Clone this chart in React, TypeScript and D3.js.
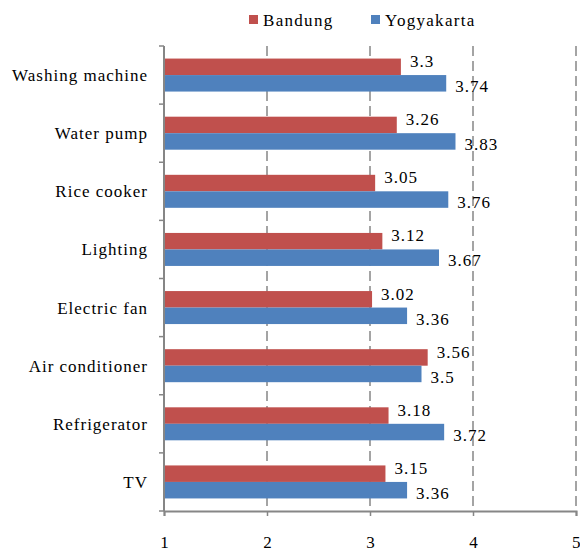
import React, { useEffect, useRef } from 'react';
import * as d3 from 'd3';

const categories = ['Washing machine', 'Water pump', 'Rice cooker', 'Lighting', 'Electric fan', 'Air conditioner', 'Refrigerator', 'TV'];
const bandung = [3.3, 3.26, 3.05, 3.12, 3.02, 3.56, 3.18, 3.15];
const yogyakarta = [3.74, 3.83, 3.76, 3.67, 3.36, 3.5, 3.72, 3.36];
const xTicks = [1, 2, 3, 4, 5];

const series = [
  { name: 'Bandung', values: bandung, color: '#C0504D' },
  { name: 'Yogyakarta', values: yogyakarta, color: '#4F81BD' },
];

const App = () => {
  const ref = useRef<SVGSVGElement>(null);

  useEffect(() => {
    const svg = d3.select(ref.current);
    svg.selectAll('*').remove();
    const font = '"Liberation Serif", "Times New Roman", serif';
    const left = 164, right = 576, top = 46, bottom = 511;

    const x = d3.scaleLinear().domain([1, 5]).range([left, right]);
    const y = d3.scaleBand().domain(categories).range([top, bottom]);
    const barH = 16.5;

    const styleText = (sel: any, size: number, spacing: number) =>
      sel.style('font-family', font).style('font-size', size + 'px')
        .style('letter-spacing', spacing + 'px').attr('fill', '#000');

    // dashed gridlines
    svg.append('g').selectAll('line')
      .data(xTicks.slice(1))
      .enter().append('line')
      .attr('x1', d => x(d)).attr('x2', d => x(d))
      .attr('y1', top).attr('y2', bottom)
      .attr('stroke', '#868686').attr('stroke-width', 1.5)
      .attr('stroke-dasharray', '10,5');

    // bars + value labels
    series.forEach((s, si) => {
      const g = svg.append('g');
      g.selectAll('rect')
        .data(s.values)
        .enter().append('rect')
        .attr('x', x(1))
        .attr('y', (d, i) => y(categories[i])! + y.bandwidth() / 2 - barH + si * barH)
        .attr('width', d => x(d) - x(1))
        .attr('height', barH)
        .attr('fill', s.color);
      const labels = g.selectAll('text')
        .data(s.values)
        .enter().append('text')
        .attr('x', d => x(d) + 9)
        .attr('y', (d, i) => y(categories[i])! + y.bandwidth() / 2 + (si === 0 ? -8 : 17))
        .text(d => String(d));
      styleText(labels, 17, 1);
    });

    // x axis
    const xAxis = svg.append('g')
      .attr('transform', `translate(0,${bottom})`)
      .call(d3.axisBottom(x).tickValues(xTicks).tickFormat(d3.format('d')).tickSize(5).tickPadding(20));
    xAxis.select('.domain').attr('stroke', '#868686').attr('stroke-width', 2);
    xAxis.selectAll('line').attr('stroke', '#868686').attr('stroke-width', 1.5);
    styleText(xAxis.selectAll('text'), 17, 0);
    xAxis.selectAll('text').filter((d: any) => d === 5).attr('text-anchor', 'end').attr('dx', 4);

    // y axis line with boundary ticks
    const bounds = d3.range(categories.length + 1).map(i => top + i * y.step());
    svg.append('line')
      .attr('x1', left).attr('x2', left).attr('y1', top).attr('y2', bottom)
      .attr('stroke', '#868686').attr('stroke-width', 2);
    svg.append('g').selectAll('line')
      .data(bounds)
      .enter().append('line')
      .attr('x1', left - 5).attr('x2', left)
      .attr('y1', d => d).attr('y2', d => d)
      .attr('stroke', '#868686').attr('stroke-width', 1.5);
    const catLabels = svg.append('g').selectAll('text')
      .data(categories)
      .enter().append('text')
      .attr('x', 148)
      .attr('y', d => y(d)! + y.bandwidth() / 2 + 6)
      .attr('text-anchor', 'end')
      .text(d => d);
    styleText(catLabels, 17, 1);

    // legend
    const legendX = [249, 371];
    series.forEach((s, i) => {
      svg.append('rect')
        .attr('x', legendX[i]).attr('y', 15).attr('width', 9).attr('height', 9)
        .attr('fill', s.color);
      const t = svg.append('text')
        .attr('x', legendX[i] + 14).attr('y', 26)
        .text(s.name);
      styleText(t, 17, 1.3);
    });
  }, []);

  return (
    <svg ref={ref} width={580} height={553}
      style={{ position: 'absolute', left: 0, top: 0, background: '#fff' }} />
  );
};

export default App;
